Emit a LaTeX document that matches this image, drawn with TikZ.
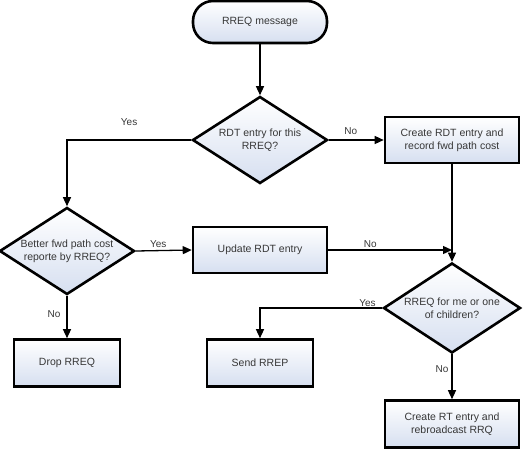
\documentclass[tikz,border=0pt]{standalone}
\usepackage{fontspec}
\setmainfont{Liberation Sans}
\usetikzlibrary{shapes.geometric,arrows.meta,positioning}
\definecolor{boxblue}{RGB}{214,223,240}
\definecolor{txtgray}{RGB}{55,55,55}
\begin{document}
\begin{tikzpicture}[x=1pt,y=-1pt, font=\fontsize{10.5}{12.7}\selectfont,
 box/.style={draw=black, line width=2.6pt, top color=white, bottom color=boxblue, text=txtgray, align=center, minimum width=134pt, minimum height=46pt, inner sep=0pt},
 smallbox/.style={box, minimum width=106pt, minimum height=47pt},
 terminal/.style={box, rounded corners=20pt, minimum height=42pt},
 decision/.style={diamond, draw=black, line width=2.6pt, top color=white, bottom color=boxblue, text=txtgray, align=center, aspect=1.55, inner sep=0pt, minimum width=135pt, minimum height=87pt},
 flow/.style={line width=1.3pt, -{Triangle[length=9pt,width=8pt]}},
 lbl/.style={font=\fontsize{10}{12}\selectfont, text=txtgray, inner sep=1pt}]
\useasboundingbox (0,0) rectangle (530,463);
\node[terminal] (start) at (260,22) {RREQ message};
\node[decision] (haveentry) at (260,140) {RDT entry for this\\RREQ?};
\node[box] (createrdt) at (452,140) {Create RDT entry and\\record fwd path cost};
\node[decision] (better) at (67,251) {Better fwd path cost\\reporte by RREQ?};
\node[box] (update) at (260,250) {Update RDT entry};
\node[decision, minimum width=137pt, minimum height=90pt] (forme) at (452,308) {RREQ for me or one\\of children?};
\node[smallbox] (drop) at (67,363) {Drop RREQ};
\node[smallbox] (send) at (260,363) {Send RREP};
\node[box, minimum height=47pt] (rebcast) at (452,424) {Create RT entry and\\rebroadcast RRQ};
\coordinate (join) at (createrdt.south |- update.east);
\draw[flow] (start) -- (haveentry);
\draw[flow] (haveentry.west) -| node[lbl, pos=0.25, above=13pt] {Yes} (better.north);
\draw[flow] (haveentry.east) -- node[lbl, pos=0.4, above=4pt] {No} (createrdt.west);
\draw[flow] (better.east) -- node[lbl, pos=0.4, above=1pt] {Yes} (update.west);
\draw[flow] (better.south) -- node[lbl, pos=0.43, left=5pt] {No} (drop.north);
\draw[flow] (update.east) -- node[lbl, pos=0.34, above=1pt] {No} (join);
\draw[flow] (createrdt.south) -- (forme.north);
\draw[flow] (forme.west) -| node[lbl, pos=0.06, above=0pt] {Yes} (send.north);
\draw[flow] (forme.south) -- node[lbl, pos=0.33, left=2pt] {No} (rebcast.north);
\end{tikzpicture}
\end{document}
